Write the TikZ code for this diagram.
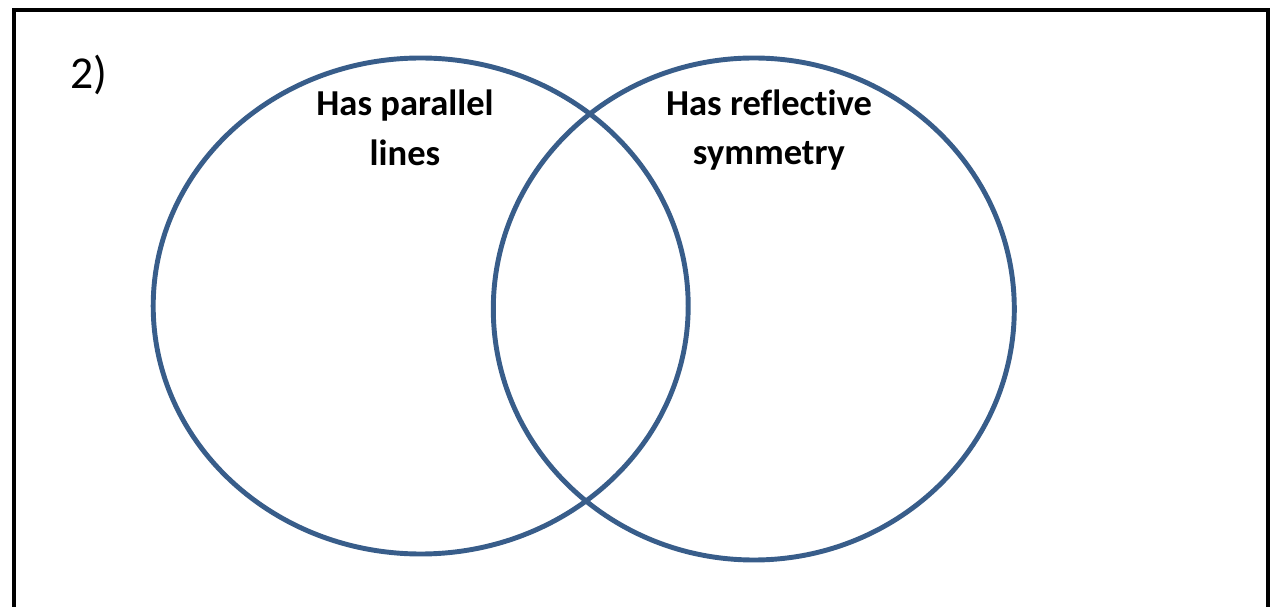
\documentclass[tikz,border=0pt]{standalone}
\usepackage{fontspec}
\setmainfont[Ligatures=NoCommon]{Carlito}
\usetikzlibrary{positioning}
\definecolor{vennblue}{RGB}{56,93,138}

\begin{document}
\begin{tikzpicture}[x=0.02cm, y=-0.02cm]
    \useasboundingbox (0,0) rectangle (1270,607);
    \tikzset{
        venn/.style={draw=vennblue, line width=2.8pt},
        setlabel/.style={font=\fontsize{20.8}{28.3}\selectfont\bfseries, align=center, inner sep=0pt}
    }

    % frame, open at the bottom edge
    \draw[line width=2.3pt] (14,640) -- (14,10) -- (1268,10) -- (1268,640);

    \coordinate (A) at (420.7,306);
    \coordinate (B) at (753.8,309);

    \draw[venn] (A) ellipse [x radius=267.5, y radius=248];
    \draw[venn] (B) ellipse [x radius=260.5, y radius=251];

    \node[font=\fontsize{26}{30}\selectfont, anchor=base west, inner sep=0pt] (num) at (70,89) {2)};
    \node[setlabel] (parallel) at (405,128) {Has parallel\\lines};
    \node[setlabel] (reflect) at (769,130) {Has reflective\\symmetry};
\end{tikzpicture}
\end{document}
